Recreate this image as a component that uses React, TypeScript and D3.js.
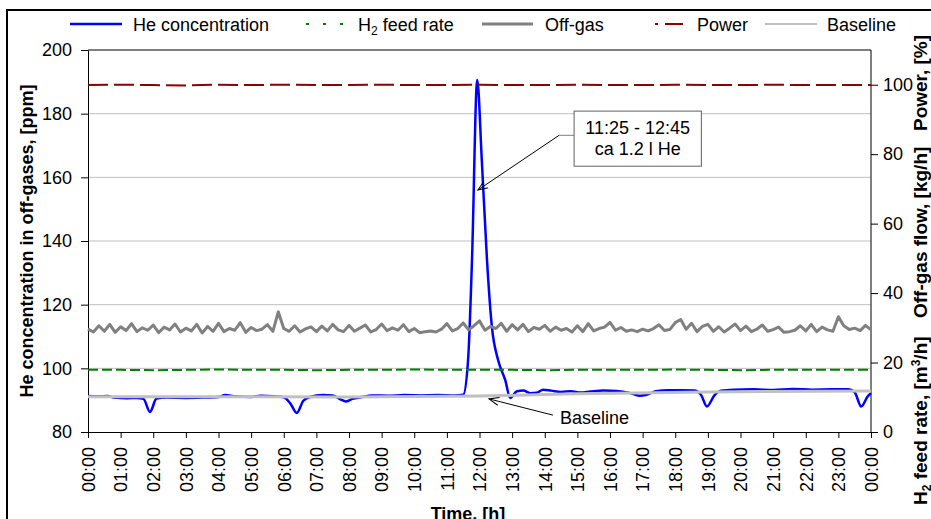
import React, { useRef, useEffect } from 'react';
import * as d3 from 'd3';

// x tick labels, one per hour
const hourLabels = [
  '00:00', '01:00', '02:00', '03:00', '04:00', '05:00', '06:00', '07:00',
  '08:00', '09:00', '10:00', '11:00', '12:00', '13:00', '14:00', '15:00',
  '16:00', '17:00', '18:00', '19:00', '20:00', '21:00', '22:00', '23:00', '00:00'
];

// He concentration [ppm], time in hours
const heTime = [
  0.0, 0.3, 0.6, 0.8, 1.2, 1.5, 1.7, 1.9, 2.1, 2.4, 3.0, 3.5, 4.0, 4.2, 4.5,
  5.0, 5.3, 5.7, 6.0, 6.2, 6.4, 6.6, 6.8, 7.2, 7.5, 7.75, 7.9, 8.1, 8.4, 8.7,
  9.2, 9.7, 10.2, 10.7, 11.2, 11.5, 11.65, 11.77, 11.93, 12.07, 12.23, 12.38,
  12.57, 12.79, 12.94, 13.15, 13.35, 13.55, 13.75, 13.95, 14.2, 14.5, 14.8,
  15.1, 15.4, 15.8, 16.2, 16.6, 16.9, 17.1, 17.4, 17.8, 18.2, 18.6, 18.8,
  18.97, 19.2, 19.4, 19.8, 20.4, 21.0, 21.6, 22.2, 22.8, 23.3, 23.5, 23.7,
  23.9, 24.0
];
const heValue = [
  91.3, 91.2, 91.3, 90.8, 90.6, 90.7, 90.4, 86.3, 90.5, 90.8, 90.7, 90.8, 91.0, 91.6, 91.2,
  91.0, 91.4, 91.2, 90.9, 89.0, 86.0, 89.8, 91.0, 91.6, 91.5, 90.2, 89.6, 90.4, 91.0, 91.5,
  91.4, 91.6, 91.5, 91.6, 91.5, 91.7, 102.6, 134, 190.6, 165.5, 134, 113,
  102.6, 96.3, 90.7, 92.8, 93.0, 92.2, 92.3, 93.3, 93.0, 92.6, 92.8,
  92.4, 92.7, 93.0, 92.9, 92.3, 91.4, 91.6, 92.8, 93.1, 93.1, 93.0, 91.5,
  88.0, 91.5, 93.0, 93.3, 93.4, 93.2, 93.5, 93.3, 93.4, 93.4, 92.5, 88.0,
  91.2, 92.2
];

// Off-gas flow [kg/h], sampled every 10 minutes
const offGasValue = [
  29.6, 28.8, 30.6, 29.0, 31.0, 28.7,
  30.3, 29.2, 31.2, 28.9, 30.0, 29.3,
  30.8, 28.6, 30.2, 29.4, 31.1, 28.8,
  29.9, 29.1, 31.0, 28.5, 30.4, 29.0,
  31.3, 28.9, 29.8, 29.3, 31.5, 28.7,
  30.1, 29.2, 29.6, 30.9, 29.0, 34.6,
  29.8, 29.0, 30.6, 28.8, 29.7, 30.3,
  28.9, 30.5, 29.1, 31.0, 29.4, 28.9,
  30.7, 29.0, 29.9, 30.8, 28.8, 29.5,
  31.1, 29.2, 30.0, 29.3, 30.9, 28.9,
  29.8, 28.6, 28.9, 29.1, 28.8, 29.6,
  31.2, 29.1, 29.8, 31.4, 29.4, 30.6,
  32.0, 29.3, 30.4, 29.8, 31.3, 29.0,
  30.9, 29.4, 31.0, 28.9, 30.1, 29.6,
  30.7, 29.0, 30.2, 29.3, 29.8, 28.8,
  30.6, 28.9, 31.2, 29.1, 29.8, 30.2,
  31.6, 29.3, 30.1, 29.0, 29.4, 28.9,
  29.6, 29.1, 29.8, 30.9, 29.2, 29.5,
  31.5, 32.4, 29.6, 31.3, 28.9, 30.4,
  31.0, 29.0, 30.3, 28.8, 29.9, 31.1,
  29.2, 30.5, 28.9, 29.6, 30.8, 29.0,
  29.5, 30.2, 28.7, 28.9, 29.3, 30.6,
  29.1, 31.0, 28.9, 30.2, 29.4, 29.0,
  33.2, 30.6, 29.5, 29.9, 29.2, 30.7,
  29.4
];

// H2 feed rate [m3/h] and power [%], hourly
const h2FeedValue = [
  17.9, 17.9, 17.8, 17.9, 18.0, 17.9, 17.9, 17.8, 17.9, 17.9, 18.0, 17.9, 17.9,
  17.9, 17.8, 17.9, 17.9, 17.9, 18.0, 17.9, 17.8, 17.9, 17.9, 17.9, 17.9
];
const powerValue = [
  99.9, 100.0, 99.9, 99.8, 100.0, 99.9, 100.0, 99.9, 99.9, 100.0, 99.9, 99.9, 100.0,
  99.9, 99.9, 100.0, 99.9, 99.9, 100.0, 99.9, 99.9, 100.0, 99.9, 99.9, 99.9
];

// Baseline [ppm]
const baselineTime = [0, 8, 12, 15, 19, 24];
const baselineValue = [91.1, 91.0, 91.3, 92.0, 92.6, 92.9];

const leftTicks = [80, 100, 120, 140, 160, 180, 200];
const rightTicks = [0, 20, 40, 60, 80, 100];

const FONT = '"Liberation Sans", Arial, Helvetica, sans-serif';

const App = () => {
  const svgRef = useRef(null);

  useEffect(() => {
    document.body.style.margin = '0';
    const svg = d3.select(svgRef.current);
    svg.selectAll('*').remove();

    const width = 931;
    const height = 519;
    const margin = { top: 50, right: 60, bottom: 87, left: 88 };
    const x0 = margin.left;
    const x1 = width - margin.right;
    const y0 = height - margin.bottom;
    const y1 = margin.top;

    const x = d3.scaleLinear().domain([0, 24]).range([x0, x1]);
    const yLeft = d3.scaleLinear().domain([80, 200]).range([y0, y1]);
    const yRight = d3.scaleLinear().domain([0, 110]).range([y0, y1]);

    svg.append('rect').attr('width', width).attr('height', height).attr('fill', '#fff');

    // outer frame
    svg.append('rect')
      .attr('x', 7).attr('y', 10)
      .attr('width', width + 20).attr('height', height + 20)
      .attr('fill', 'none').attr('stroke', '#000').attr('stroke-width', 2);

    // gridlines
    svg.append('g').selectAll('line')
      .data([100, 120, 140, 160, 180])
      .enter().append('line')
      .attr('x1', x0).attr('x2', x1)
      .attr('y1', d => yLeft(d)).attr('y2', d => yLeft(d))
      .attr('stroke', '#c0c0c0').attr('stroke-width', 1);

    // top border of plot
    svg.append('line')
      .attr('x1', x0).attr('x2', x1).attr('y1', y1).attr('y2', y1)
      .attr('stroke', '#000').attr('stroke-width', 1);

    const styleAxis = (g) => {
      g.attr('font-family', FONT).attr('font-size', 18);
      g.selectAll('text').attr('fill', '#000');
      g.selectAll('line').attr('stroke', '#000');
      g.select('.domain').attr('stroke', '#000');
    };

    svg.append('g')
      .attr('transform', `translate(${x0},0)`)
      .call(d3.axisLeft(yLeft).tickValues(leftTicks).tickSize(7).tickSizeOuter(0).tickPadding(9))
      .call(styleAxis);

    svg.append('g')
      .attr('transform', `translate(${x1},0)`)
      .call(d3.axisRight(yRight).tickValues(rightTicks).tickSize(7).tickSizeOuter(0).tickPadding(5))
      .call(styleAxis)
      .call(g => g.select('.domain').attr('d', `M0,${y0}V${y1}`));

    svg.append('g')
      .attr('transform', `translate(0,${y0})`)
      .call(d3.axisBottom(x).tickValues(d3.range(0, 25)).tickFormat((d, i) => hourLabels[i]).tickSize(6).tickSizeOuter(0))
      .call(styleAxis)
      .selectAll('text')
      .attr('transform', 'rotate(-90)')
      .attr('text-anchor', 'end')
      .attr('x', -15)
      .attr('y', 0)
      .attr('dy', '0.35em');

    // series
    const heLine = d3.line().x((d, i) => x(heTime[i])).y(d => yLeft(d)).curve(d3.curveMonotoneX);
    const offGasLine = d3.line().x((d, i) => x(i / 6)).y(d => yRight(d));
    const hourlyLine = d3.line().x((d, i) => x(i)).y(d => yRight(d));
    const baseLine = d3.line().x((d, i) => x(baselineTime[i])).y(d => yLeft(d)).curve(d3.curveMonotoneX);

    svg.append('path').datum(heValue).attr('d', heLine)
      .attr('fill', 'none').attr('stroke', '#0000ff').attr('stroke-width', 2.5);
    svg.append('path').datum(h2FeedValue).attr('d', hourlyLine)
      .attr('fill', 'none').attr('stroke', '#008000').attr('stroke-width', 2)
      .attr('stroke-dasharray', '10 4');
    svg.append('path').datum(offGasValue).attr('d', offGasLine)
      .attr('fill', 'none').attr('stroke', '#808080').attr('stroke-width', 3)
      .attr('stroke-linejoin', 'round');
    svg.append('path').datum(powerValue).attr('d', hourlyLine)
      .attr('fill', 'none').attr('stroke', '#8b0000').attr('stroke-width', 2)
      .attr('stroke-dasharray', '20 6');
    svg.append('path').datum(baselineValue).attr('d', baseLine)
      .attr('fill', 'none').attr('stroke', '#c0c0c0').attr('stroke-width', 3);

    // arrow marker
    const defs = svg.append('defs');
    defs.append('marker')
      .attr('id', 'arrow')
      .attr('markerUnits', 'userSpaceOnUse')
      .attr('markerWidth', 12).attr('markerHeight', 12)
      .attr('refX', 10).attr('refY', 5)
      .attr('orient', 'auto')
      .attr('viewBox', '0 0 12 10')
      .append('path')
      .attr('d', 'M0,1 L10,5 L0,9')
      .attr('fill', 'none').attr('stroke', '#000').attr('stroke-width', 1);

    // peak annotation
    const boxX = x(14.9);
    const boxY = yLeft(180.8);
    const boxW = x(18.8) - boxX;
    const boxH = yLeft(163.5) - boxY;
    const leaderY = yLeft(173.2);
    svg.append('line')
      .attr('x1', boxX).attr('y1', leaderY)
      .attr('x2', x(14.44)).attr('y2', leaderY)
      .attr('stroke', '#808080').attr('stroke-width', 1);
    svg.append('line')
      .attr('x1', x(14.44)).attr('y1', leaderY)
      .attr('x2', x(11.95)).attr('y2', yLeft(156))
      .attr('stroke', '#000').attr('stroke-width', 1)
      .attr('marker-end', 'url(#arrow)');
    svg.append('rect')
      .attr('x', boxX).attr('y', boxY).attr('width', boxW).attr('height', boxH)
      .attr('fill', '#fff').attr('stroke', '#606060').attr('stroke-width', 1);
    const note = svg.append('text')
      .attr('font-family', FONT).attr('font-size', 18).attr('text-anchor', 'middle');
    note.append('tspan').attr('x', boxX + boxW / 2).attr('y', boxY + 23).text('11:25 - 12:45');
    note.append('tspan').attr('x', boxX + boxW / 2).attr('y', boxY + 44).text('ca 1.2 l He');

    // baseline annotation
    svg.append('line')
      .attr('x1', x(14.25)).attr('y1', yLeft(85.3))
      .attr('x2', x(12.29)).attr('y2', yLeft(90.4))
      .attr('stroke', '#000').attr('stroke-width', 1)
      .attr('marker-end', 'url(#arrow)');
    svg.append('text')
      .attr('x', x(14.47)).attr('y', yLeft(82.5))
      .attr('font-family', FONT).attr('font-size', 18)
      .text('Baseline');

    // axis titles
    svg.append('text')
      .attr('transform', `translate(33,${(y0 + y1) / 2}) rotate(-90)`)
      .attr('text-anchor', 'middle')
      .attr('font-family', FONT).attr('font-size', 18).attr('font-weight', 'bold')
      .text('He concentration in off-gases, [ppm]');

    svg.append('text')
      .attr('x', 468).attr('y', 520)
      .attr('text-anchor', 'middle')
      .attr('font-family', FONT).attr('font-size', 18).attr('font-weight', 'bold')
      .text('Time, [h]');

    const rightTitle = (yPos, build) => {
      const t = svg.append('text')
        .attr('transform', `translate(927,${yPos}) rotate(-90)`)
        .attr('font-family', FONT).attr('font-size', 19).attr('font-weight', 'bold');
      build(t);
    };
    rightTitle(505, t => {
      t.append('tspan').text('H');
      t.append('tspan').attr('font-size', 12).attr('dy', 4).text('2');
      t.append('tspan').attr('dy', -4).text(' feed rate, [m');
      t.append('tspan').attr('font-size', 12).attr('dy', -7).text('3');
      t.append('tspan').attr('dy', 7).text('/h]');
    });
    rightTitle(318, t => t.text('Off-gas flow, [kg/h]'));
    rightTitle(131, t => t.text('Power, [%]'));

    // legend
    const legendItems = [
      { label: 'He', color: '#0000ff', w: 2.5, dash: null, lx1: 70, lx2: 122, tx: 133 },
      { label: 'H2', color: '#008000', w: 2, dash: '3 14', lx1: 306, lx2: 345, tx: 358 },
      { label: 'Off-gas', color: '#808080', w: 3, dash: null, lx1: 482, lx2: 533, tx: 545 },
      { label: 'Power', color: '#8b0000', w: 2, dash: '3 7 18', lx1: 655, lx2: 683, tx: 697 },
      { label: 'Baseline', color: '#c0c0c0', w: 2, dash: null, lx1: 765, lx2: 817, tx: 827 }
    ];
    const legend = svg.append('g');
    legendItems.forEach(it => {
      legend.append('line')
        .attr('x1', it.lx1).attr('x2', it.lx2).attr('y1', 24).attr('y2', 24)
        .attr('stroke', it.color).attr('stroke-width', it.w)
        .attr('stroke-dasharray', it.dash);
      const t = legend.append('text')
        .attr('x', it.tx).attr('y', 31)
        .attr('font-family', FONT).attr('font-size', 18);
      if (it.label === 'He') t.text('He concentration');
      else if (it.label === 'H2') {
        t.append('tspan').text('H');
        t.append('tspan').attr('font-size', 12).attr('dy', 4).text('2');
        t.append('tspan').attr('dy', -4).text(' feed rate');
      } else t.text(it.label);
    });
  }, []);

  return (
    <svg
      ref={svgRef}
      width={931}
      height={519}
      style={{ display: 'block' }}
    />
  );
};

export default App;
